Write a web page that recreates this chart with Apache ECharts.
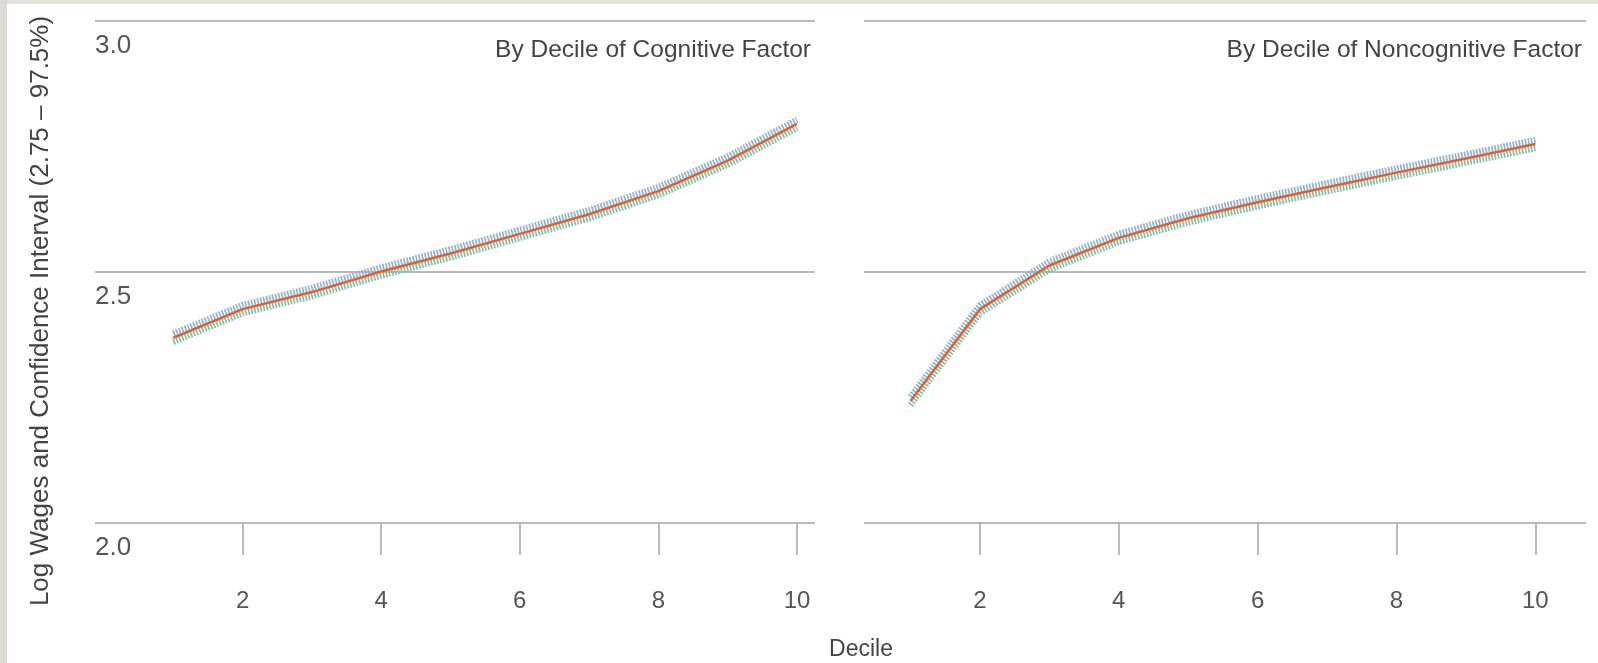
<!DOCTYPE html>
<html>
<head>
<meta charset="utf-8">
<script src="https://cdn.jsdelivr.net/npm/echarts@6/dist/echarts.min.js"></script>
<style>
html,body{margin:0;padding:0;width:1598px;height:663px;overflow:hidden;}
body{background:
  linear-gradient(to right,#dbdbd4 0,#dbdbd4 7px,transparent 7px),
  linear-gradient(to bottom,#e2e2dc 0,#e2e2dc 4px,#ffffff 4px);}
#c{width:1598px;height:663px;}
</style>
</head>
<body>
<div id="c"></div>
<script>
const deciles = [1,2,3,4,5,6,7,8,9,10];
const xTickValues = [2,4,6,8,10];
const yTickValues = [2.0,2.5,3.0];

const cogCenter = [2.369,2.426,2.460,2.501,2.537,2.576,2.615,2.661,2.722,2.795];
const cogUpper  = [2.377,2.434,2.468,2.509,2.545,2.584,2.623,2.669,2.730,2.803];
const cogLower  = [2.361,2.418,2.452,2.493,2.529,2.568,2.607,2.653,2.714,2.787];

const noncogCenter = [2.243,2.426,2.513,2.568,2.607,2.639,2.669,2.698,2.726,2.755];
const noncogUpper  = [2.251,2.434,2.521,2.576,2.615,2.647,2.677,2.706,2.734,2.763];
const noncogLower  = [2.235,2.418,2.505,2.560,2.599,2.631,2.661,2.690,2.718,2.747];

const panelTitles = ['By Decile of Cognitive Factor','By Decile of Noncognitive Factor'];
const xName = 'Decile';
const yName = 'Log Wages and Confidence Interval (2.75 \u2013 97.5%)';

const FONT = 'Liberation Sans';
const chart = echarts.init(document.getElementById('c'), null, {renderer:'canvas'});

function pairs(vals){ return deciles.map((d,i)=>[d, vals[i]]); }

function xAxis(idx, min, max){
  return {
    type:'value', gridIndex:idx, min:min, max:max,
    axisLine:{show:false},
    splitLine:{show:false},
    axisTick:{show:true, length:32, customValues:xTickValues, lineStyle:{color:'#a6a6a6', width:1.5}},
    axisLabel:{show:true, customValues:xTickValues, margin:66, fontFamily:FONT, fontSize:24, color:'#555'}
  };
}
function yAxis(idx, showLabel){
  return {
    type:'value', gridIndex:idx, min:2.0, max:3.0, interval:0.5,
    axisLine:{show:false}, axisTick:{show:false},
    splitLine:{show:true, lineStyle:{color:'#a3a3a3', width:1.5}},
    axisLabel:{show:showLabel, inside:true, margin:0, align:'left', verticalAlign:'top',
      padding:[12,0,0,0], fontFamily:FONT, fontSize:26, color:'#555',
      formatter:v=>v.toFixed(1)}
  };
}
function ciSeries(idx, vals, color){
  return {type:'line', xAxisIndex:idx, yAxisIndex:idx, data:pairs(vals), symbol:'none', silent:true,
    lineStyle:{color:color, width:6.5, type:[1.7,1.4]}, z:2};
}
function centerSeries(idx, vals){
  return {type:'line', xAxisIndex:idx, yAxisIndex:idx, data:pairs(vals), symbol:'none', silent:true,
    lineStyle:{color:'#e4602a', width:2.5}, z:3};
}

chart.setOption({
  backgroundColor:'transparent',
  animation:false,
  title:[
    {text:panelTitles[0], right:1598-816, top:33, textStyle:{fontFamily:FONT, fontSize:24.5, fontWeight:'normal', color:'#444'}},
    {text:panelTitles[1], right:1598-1587, top:33, textStyle:{fontFamily:FONT, fontSize:24.5, fontWeight:'normal', color:'#444'}},
    {text:xName, left:856, textAlign:'center', top:633, textStyle:{fontFamily:FONT, fontSize:23, fontWeight:'normal', color:'#444'}}
  ],
  graphic:[
    {type:'text', x:41, y:311, rotation:Math.PI/2, style:{text:yName, fontFamily:FONT, fontSize:26, fill:'#444', align:'center', verticalAlign:'middle'}}
  ],
  grid:[
    {left:95, width:720, top:21, height:502},
    {left:864, width:722, top:21, height:502}
  ],
  xAxis:[xAxis(0,-0.13,10.26), xAxis(1,0.33,10.73)],
  yAxis:[yAxis(0,true), yAxis(1,false)],
  series:[
    ciSeries(0,cogUpper,'#8db2d3'),
    ciSeries(0,cogLower,'#84bda4'),
    centerSeries(0,cogCenter),
    ciSeries(1,noncogUpper,'#8db2d3'),
    ciSeries(1,noncogLower,'#84bda4'),
    centerSeries(1,noncogCenter)
  ]
});
</script>
</body>
</html>
